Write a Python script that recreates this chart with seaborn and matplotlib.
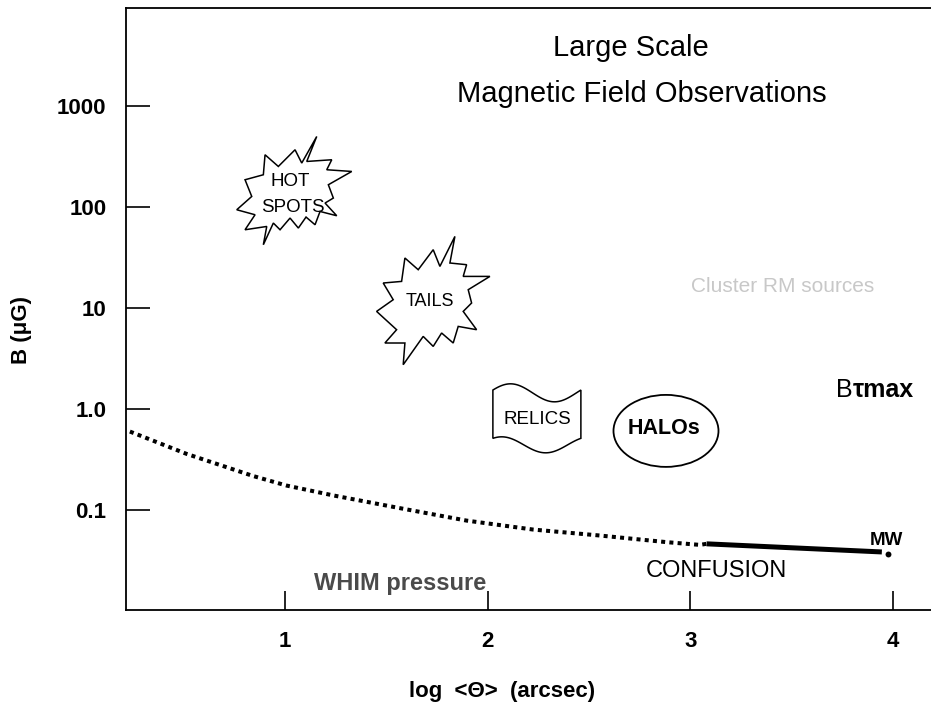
import numpy as np
import pandas as pd
import matplotlib
matplotlib.use("Agg")
import matplotlib.pyplot as plt
import matplotlib.transforms as mtransforms
from matplotlib.patches import Polygon, Ellipse
import seaborn as sns

# ---------------- data ----------------
whim_x = [0.235, 0.515, 0.844, 1.008, 1.238, 1.567, 1.896, 2.225, 2.554, 2.883, 3.047, 3.08]
whim_b = [0.596, 0.358, 0.216, 0.174, 0.139, 0.104, 0.0783, 0.0638, 0.0557, 0.0479, 0.0450, 0.0461]
conf_x = [3.08, 3.945]
conf_b = [0.0461, 0.0383]
mw_x = [3.975]
mw_b = [0.0366]

x_ticks = [1, 2, 3, 4]
x_tick_labels = ["1", "2", "3", "4"]
y_ticks = [0.1, 1, 10, 100, 1000]
y_tick_labels = ["0.1", "1.0", "10", "100", "1000"]

# region centres (log<Theta>, B)
hot_xy = (1.035, 141)
tails_xy = (1.730, 11.5)
relics_xy = (2.243, 0.815)
halos_xy = (2.88, 0.605)

# ---------------- style ----------------
sns.set_theme(style="ticks")
plt.rcParams["font.family"] = ["Liberation Sans", "DejaVu Sans"]
plt.rcParams["text.color"] = "black"
plt.rcParams["axes.labelcolor"] = "black"
plt.rcParams["xtick.color"] = "black"
plt.rcParams["ytick.color"] = "black"

fig = plt.figure(figsize=(9.31, 7.07), dpi=100)
ax = fig.add_axes([0.1353, 0.1372, 0.8647, 0.8515])

whim_df = pd.DataFrame({"x": whim_x, "B": whim_b})
conf_df = pd.DataFrame({"x": conf_x, "B": conf_b})

sns.lineplot(data=whim_df, x="x", y="B", ax=ax, color="black", lw=2.9,
             linestyle=(0, (1.0, 1.05)), dash_capstyle="butt", sort=False)
sns.lineplot(data=conf_df, x="x", y="B", ax=ax, color="black", lw=3.6, sort=False,
             solid_capstyle="butt")
sns.scatterplot(x=mw_x, y=mw_b, ax=ax, color="black", s=18, linewidth=0)

ax.set_yscale("log")
ax.set_xlim(0.2156, 4.1875)
ax.set_ylim(0.0102, 9300)
ax.set_xticks(x_ticks)
ax.set_xticklabels(x_tick_labels, fontweight="bold")
ax.set_yticks(y_ticks)
ax.set_yticklabels(y_tick_labels, fontweight="bold")
ax.minorticks_off()
ax.set_xlabel("")
ax.set_ylabel("")

for s in ["left", "bottom", "top"]:
    ax.spines[s].set_visible(True)
    ax.spines[s].set_linewidth(1.3)
    ax.spines[s].set_color("black")
ax.spines["right"].set_visible(False)

ax.tick_params(axis="y", direction="in", length=17, width=1.2, pad=14,
               labelsize=16, colors="black", right=False)
ax.tick_params(axis="x", direction="in", length=14, width=1.2, pad=15,
               labelsize=16, colors="black", top=False)

# ---------------- shapes ----------------
def at(xy):
    return mtransforms.Affine2D() + mtransforms.ScaledTranslation(xy[0], xy[1], ax.transData)

hot_outline = [(24.7, 55.3), (14.7, 30.3), (39.7, 32), (34.7, 22), (59.7, 20.3),
               (36.3, 7), (41.3, -6.3), (33, -11.3), (44.7, -24), (28, -19.7),
               (23, -33), (14, -25.3), (6.3, -36.3), (-2, -26.3), (-12, -38),
               (-18.7, -31.3), (-28.7, -53), (-25.3, -34.7), (-47, -38), (-37, -23),
               (-55.3, -18), (-40.3, -4.7), (-47, 12), (-28.7, 17), (-27, 37),
               (-13.7, 25.3), (3, 42), (9.7, 28.7)]
tails_outline = [(22, 65.3), (17, 38.7), (33.7, 37), (30.3, 25.3), (57, 25.3),
                 (35.3, 12), (38.7, -1.3), (30.3, -9.7), (43.7, -28), (25.3, -24.7),
                 (20.3, -41.3), (8.7, -31.3), (0.3, -44.7), (-9.7, -34.7), (-29.7, -63),
                 (-28, -41.3), (-48, -41.3), (-36.3, -28), (-56.3, -9.7), (-39.7, 2),
                 (-49.7, 18.7), (-31.3, 20.3), (-28, 43.7), (-14.7, 32), (0.3, 52),
                 (7, 35.3)]

ax.add_patch(Polygon(hot_outline, closed=True, fill=False, edgecolor="black",
                     lw=1.1, transform=at(hot_xy), joinstyle="miter"))
ax.add_patch(Polygon(tails_outline, closed=True, fill=False, edgecolor="black",
                     lw=1.1, transform=at(tails_xy), joinstyle="miter"))

# flag outline for RELICS
t = np.linspace(0, 1, 60)
fx = -44 + 88 * t
top_y = 25 + 9 * np.sin(2 * np.pi * (t + 0.05))
bot_y = -27 + 8 * np.sin(2 * np.pi * (t + 0.15))
flag = list(zip(fx, top_y)) + list(zip(fx[::-1], bot_y[::-1]))
ax.add_patch(Polygon(flag, closed=True, fill=False, edgecolor="black", lw=1.1,
                     transform=at(relics_xy)))

ax.add_patch(Ellipse((0, 0), 105, 72, fill=False, edgecolor="black", lw=1.3,
                     transform=at(halos_xy)))

# ---------------- texts ----------------
ax.text(1.025, 180, "HOT", ha="center", va="center", fontsize=13.5)
ax.text(1.04, 98, "SPOTS", ha="center", va="center", fontsize=13.5)
ax.text(1.715, 11.5, "TAILS", ha="center", va="center", fontsize=13)
ax.text(2.243, 0.778, "RELICS", ha="center", va="center", fontsize=13.5)
ax.text(2.87, 0.634, "HALOs", ha="center", va="center", fontsize=15.5, fontweight="bold")

ax.text(2.707, 3750, "Large Scale", ha="center", va="center", fontsize=21)
ax.text(2.761, 1300, "Magnetic Field Observations", ha="center", va="center", fontsize=21)

ax.text(3.457, 16.1, "Cluster RM sources", ha="center", va="center", fontsize=15,
        color="#c8c8c8")
ax.text(3.80, 1.54, "B", ha="right", va="center", fontsize=18)
ax.text(3.80, 1.54, "τmax", ha="left", va="center", fontsize=18, fontweight="bold")
ax.text(1.567, 0.0185, "WHIM pressure", ha="center", va="center", fontsize=17,
        fontweight="bold", color="#4a4a4a")
ax.text(3.131, 0.0249, "CONFUSION", ha="center", va="center", fontsize=17)
ax.text(3.966, 0.0493, "MW", ha="center", va="center", fontsize=13.5, fontweight="bold")

fig.text(0.539, 0.022, "log  <Θ>  (arcsec)", ha="center", va="center",
         fontsize=16, fontweight="bold")
fig.text(0.0236, 0.533, "B (μG)", ha="center", va="center", rotation=90,
         fontsize=16, fontweight="bold")

fig.savefig("out.png", dpi=100)
